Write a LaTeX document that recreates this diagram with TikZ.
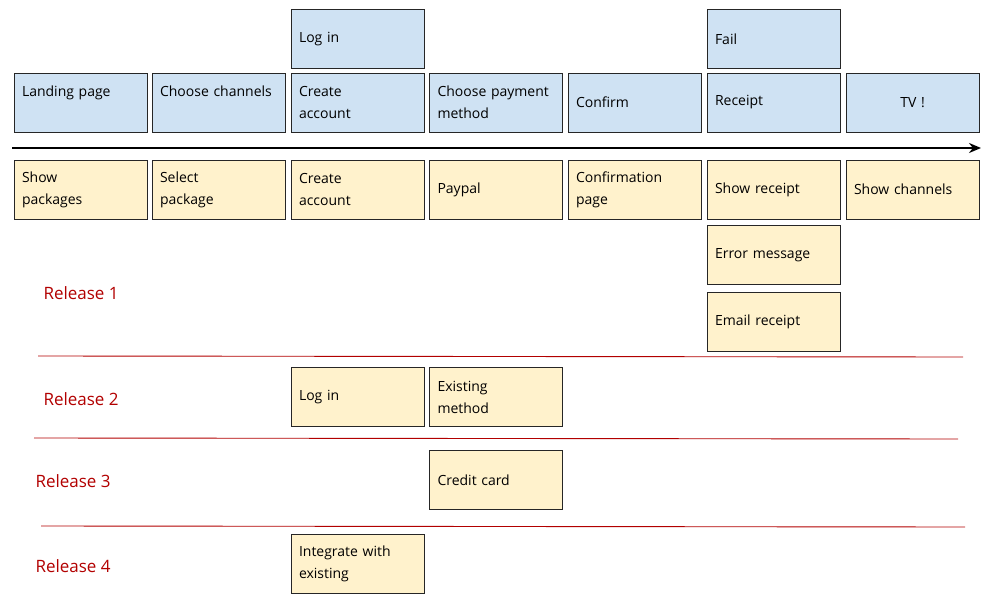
\documentclass[tikz,border=0pt]{standalone}
\usepackage{fontspec}
\setmainfont{Open Sans}
\usetikzlibrary{arrows.meta}
\definecolor{bluefill}{HTML}{CFE2F3}
\definecolor{yellowfill}{HTML}{FFF2CC}
\definecolor{relred}{HTML}{B20000}
\begin{document}
\begin{tikzpicture}[x=1pt,y=-1pt,
  card/.style={draw=black!85, line width=0.9pt, minimum height=59pt,
    text width=117pt, inner xsep=8pt, inner ysep=2pt, align=left,
    font=\fontsize{14}{22}\selectfont},
  bluecard/.style={card, fill=bluefill},
  yellowcard/.style={card, fill=yellowfill},
  rellabel/.style={anchor=west, text=relred, font=\fontsize{17}{20}\selectfont},
  relline/.style={draw=relred, line width=0.9pt},
  timeline/.style={draw=black, line width=2.6pt, -{Stealth[length=12pt,width=10pt]}}
]
\useasboundingbox (0,0) rectangle (998,612);

% user activity row (blue)
\node[bluecard] (login1) at (357.5,39) {Log in};
\node[bluecard] (fail) at (773.5,39) {Fail};
\node[bluecard] (landing) at (80.5,102.5) {Landing page\\\mbox{}};
\node[bluecard] (choosech) at (218.5,102.5) {Choose channels\\\mbox{}};
\node[bluecard] (createacc1) at (357.5,102.5) {Create\\account};
\node[bluecard] (choosepay) at (496,102.5) {Choose payment\\method};
\node[bluecard] (confirm) at (634.5,102.5) {Confirm};
\node[bluecard] (receipt) at (773.5,102.5) {Receipt};
\node[bluecard, align=center] (tv) at (912.5,102.5) {TV !};

% timeline arrow
\coordinate (tstart) at (12,148);
\coordinate (tend) at (981,148);
\draw[timeline] (tstart) -- (tend);

% stories row (yellow)
\node[yellowcard] (showpack) at (80.5,189.5) {Show\\packages};
\node[yellowcard] (selpack) at (218.5,189.5) {Select\\package};
\node[yellowcard] (createacc2) at (357.5,189.5) {Create\\account};
\node[yellowcard] (paypal) at (496,189.5) {Paypal};
\node[yellowcard] (confpage) at (634.5,189.5) {Confirmation\\page};
\node[yellowcard] (showrec) at (773.5,189.5) {Show receipt};
\node[yellowcard] (showch) at (912.5,189.5) {Show channels};
\node[yellowcard] (errmsg) at (773.5,255) {Error message};
\node[yellowcard] (emailrec) at (773.5,321.5) {Email receipt};

% release 2-4 cards
\node[yellowcard] (login2) at (357.5,397) {Log in};
\node[yellowcard] (existing) at (496,397) {Existing\\method};
\node[yellowcard] (credit) at (496,480) {Credit card};
\node[yellowcard] (integrate) at (357.5,564) {Integrate with\\existing};

% release labels
\node[rellabel] (rel1) at (40,293) {Release 1};
\node[rellabel] (rel2) at (40,399) {Release 2};
\node[rellabel] (rel3) at (32,481) {Release 3};
\node[rellabel] (rel4) at (32,566) {Release 4};

% release separators
\coordinate (l1a) at (38,356);
\coordinate (l1b) at (963,357);
\coordinate (l2a) at (34,438);
\coordinate (l2b) at (958,439);
\coordinate (l3a) at (41,526);
\coordinate (l3b) at (965,527);
\draw[relline] (l1a) -- (l1b);
\draw[relline] (l2a) -- (l2b);
\draw[relline] (l3a) -- (l3b);
\end{tikzpicture}
\end{document}
